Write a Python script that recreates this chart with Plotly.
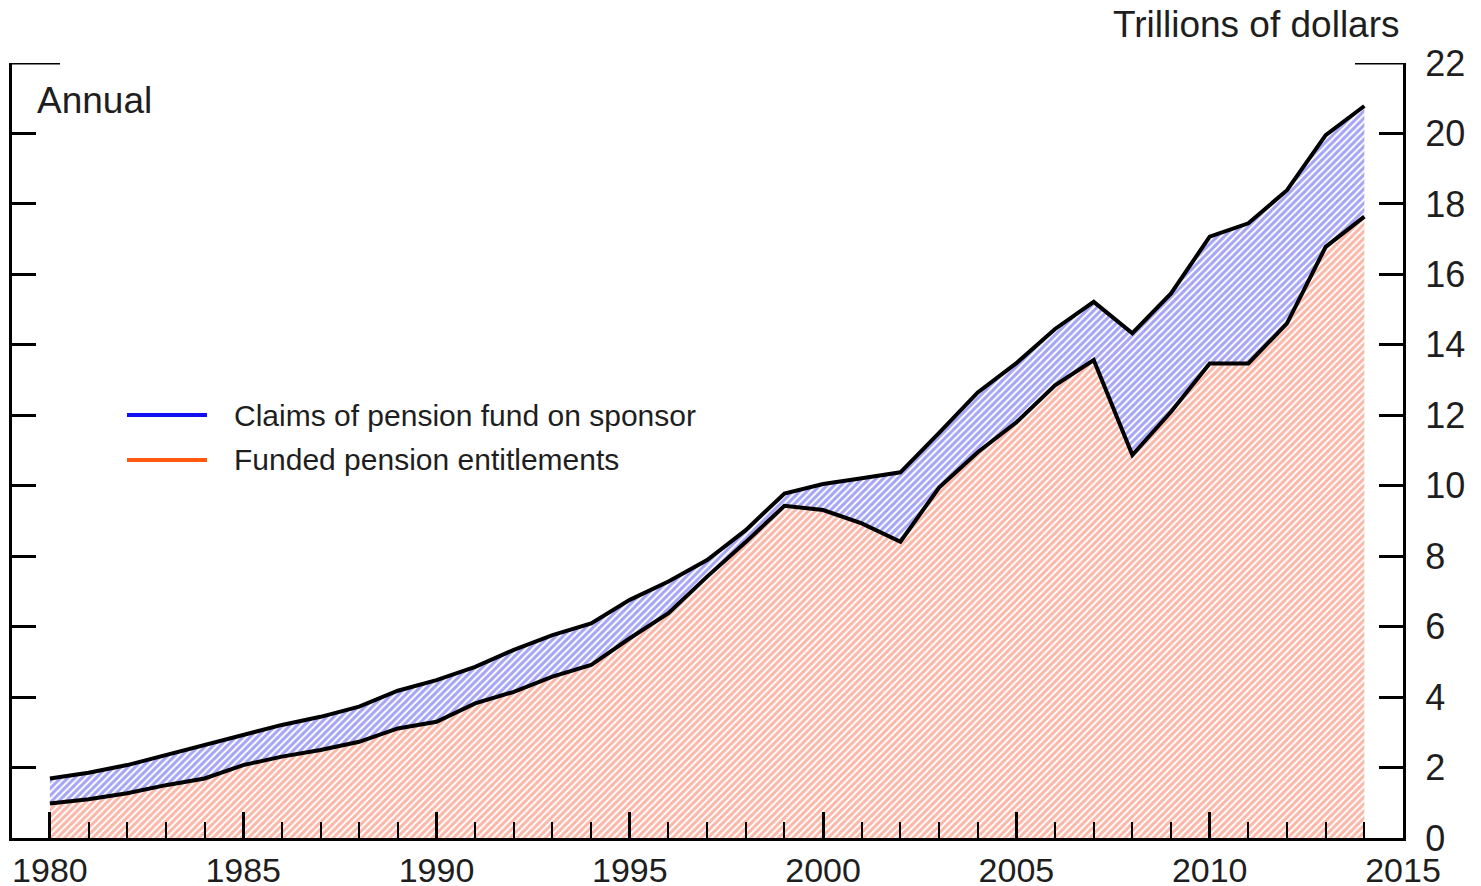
import plotly.graph_objects as go

# ---- data (trillions of dollars) ----
years = list(range(1980, 2015))
funded = [0.98, 1.10, 1.27, 1.50, 1.69, 2.07, 2.31, 2.50, 2.73, 3.11,
          3.30, 3.82, 4.15, 4.58, 4.91, 5.67, 6.38, 7.42, 8.40, 9.43,
          9.31, 8.93, 8.41, 9.95, 10.95, 11.80, 12.85, 13.57, 10.87, 12.10,
          13.47, 13.47, 14.61, 16.78, 17.64]
claims = [0.71, 0.75, 0.80, 0.86, 0.95, 0.85, 0.90, 0.94, 1.00, 1.07,
          1.18, 1.04, 1.19, 1.18, 1.18, 1.09, 0.90, 0.47, 0.34, 0.35,
          0.74, 1.28, 1.97, 1.55, 1.70, 1.68, 1.60, 1.65, 3.46, 3.36,
          3.60, 3.98, 3.78, 3.17, 3.14]
series_names = ["Claims of pension fund on sponsor", "Funded pension entitlements"]
legend_colors = ["#1010F0", "#FF5A10"]
x_ticks = [1980, 1985, 1990, 1995, 2000, 2005, 2010, 2015]
y_ticks = list(range(0, 23, 2))

FONT = "Liberation Sans, Arial, sans-serif"
TXT = "#1e1e1e"

fig = go.Figure()
fig.add_trace(go.Scatter(
    x=years, y=funded, name=series_names[1], stackgroup="one", mode="lines",
    line=dict(color="black", width=4),
    fillpattern=dict(shape="/", fgcolor="rgb(245,112,82)", bgcolor="white",
                     size=5, solidity=0.6),
    showlegend=False, hoverinfo="x+y"))
fig.add_trace(go.Scatter(
    x=years, y=claims, name=series_names[0], stackgroup="one", mode="lines",
    line=dict(color="black", width=4),
    fillpattern=dict(shape="/", fgcolor="rgb(75,75,236)", bgcolor="white",
                     size=5, solidity=0.6),
    showlegend=False, hoverinfo="x+y"))

# page body has an 8px margin, so the figure is drawn 8px in from the window edge
OFF = 8
W, H = 1481 - OFF, 886 - OFF
ml, mr, mt, mb = 12 - OFF, 78, 63 - OFF, 48
pw, ph = W - ml - mr, H - mt - mb

def px_x(p):
    return (p - OFF - ml) / pw

def px_y(p):
    return (H - mb - (p - OFF)) / ph

shapes = [
    dict(type="line", xref="paper", yref="y", x0=0, x1=px_x(60), y0=22, y1=22,
         line=dict(color="black", width=3)),
    dict(type="line", xref="paper", yref="y", x0=px_x(1355), x1=1, y0=22, y1=22,
         line=dict(color="black", width=3)),
]
annotations = [
    dict(text="Trillions of dollars", xref="paper", yref="paper",
         x=px_x(1402), y=px_y(25), xanchor="right", yanchor="middle",
         showarrow=False, font=dict(family=FONT, size=37, color=TXT)),
    dict(text="Annual", xref="paper", yref="paper",
         x=px_x(35), y=px_y(100), xanchor="left", yanchor="middle",
         showarrow=False, font=dict(family=FONT, size=37, color=TXT)),
]
for i, (nm, col) in enumerate(zip(series_names, legend_colors)):
    yy = [415, 460][i]
    shapes.append(dict(type="line", xref="paper", yref="paper",
                       x0=px_x(127), x1=px_x(207), y0=px_y(yy), y1=px_y(yy),
                       line=dict(color=col, width=4)))
    annotations.append(dict(text=nm, xref="paper", yref="paper",
                            x=px_x(232), y=px_y(yy), xanchor="left", yanchor="middle",
                            showarrow=False, font=dict(family=FONT, size=30, color=TXT)))

fig.update_layout(
    width=W, height=H, autosize=False,
    margin=dict(l=ml, r=mr, t=mt, b=mb, autoexpand=False),
    paper_bgcolor="white", plot_bgcolor="white",
    showlegend=False,
    shapes=shapes, annotations=annotations,
    xaxis=dict(range=[1979.02, 2015], tickvals=x_ticks, ticktext=[str(v) for v in x_ticks],
               ticks="inside", ticklen=26, tickwidth=3, tickcolor="black",
               showline=True, linewidth=3, linecolor="black",
               showgrid=False, zeroline=False, automargin=False,
               tickfont=dict(family=FONT, size=34, color=TXT),
               minor=dict(tick0=1980, dtick=1, ticks="inside", ticklen=16,
                          tickwidth=1.8, tickcolor="black", showgrid=False)),
    yaxis=dict(range=[0, 22], tickvals=y_ticks, side="right",
               ticks="inside", ticklen=24, tickwidth=3, tickcolor="black",
               showline=True, linewidth=3, linecolor="black", mirror="ticks",
               showgrid=False, zeroline=False, automargin=False,
               ticklabelstandoff=12,
               tickfont=dict(family=FONT, size=36, color=TXT)),
)

fig.write_html("out.html")
